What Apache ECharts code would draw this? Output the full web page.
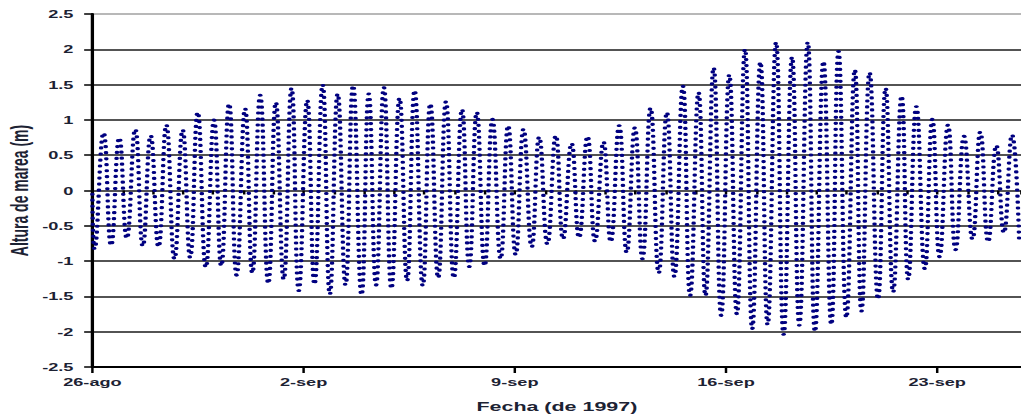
<!DOCTYPE html>
<html><head><meta charset="utf-8">
<script src="https://cdn.jsdelivr.net/npm/echarts@6/dist/echarts.min.js"></script>
<style>
html,body{margin:0;padding:0;background:#fff;overflow:hidden;}
#wrap{width:1021px;height:419px;overflow:hidden;position:relative;background:#fff;}
#chart{width:619px;height:419px;transform:scaleX(1.65);transform-origin:0 0;}
</style></head><body>
<div id="wrap"><div id="chart"></div></div>
<script>
// x tick labels (one per week, starting 26-ago-1997)
const tickLabels = ['26-ago', '2-sep', '9-sep', '16-sep', '23-sep'];
// times of successive low/high waters, in days since 26-ago 00:00
const tideDays = [0, 0.07, 0.37, 0.62, 0.89, 1.14, 1.42, 1.67, 1.93, 2.19, 2.45, 2.72, 2.99, 3.24, 3.49, 3.76, 4.03, 4.27, 4.53, 4.78, 5.06, 5.30, 5.56, 5.83, 6.08,
  6.34, 6.60, 6.84, 7.12, 7.36, 7.63, 7.87, 8.13, 8.39, 8.64, 8.92, 9.16, 9.40, 9.66, 9.91, 10.18, 10.43, 10.68, 10.95, 11.20, 11.46, 11.72, 11.98, 12.25,
  12.49, 12.74, 13.00, 13.26, 13.53, 13.78, 14.03, 14.29, 14.56, 14.81, 15.08, 15.36, 15.60, 15.88, 16.13, 16.41, 16.66, 16.94, 17.18, 17.46, 17.71, 17.98, 18.23, 18.50,
  18.77, 19.04, 19.29, 19.57, 19.81, 20.09, 20.32, 20.59, 20.84, 21.11, 21.36, 21.63, 21.87, 22.14, 22.38, 22.66, 22.91, 23.19, 23.43, 23.71, 23.95, 24.23, 24.49, 24.73,
  24.99, 25.27, 25.49, 25.76, 26.04, 26.29, 26.54, 26.82, 27.04, 27.31, 27.59, 27.84, 28.08, 28.36, 28.61, 28.89, 29.17, 29.43, 29.69, 29.96, 30.21, 30.48, 30.72];
// water level at those times (m)
const tideLevels = [-0.05, -0.83, 0.82, -0.78, 0.75, -0.68, 0.87, -0.79, 0.78, -0.80, 0.93, -0.97, 0.86, -0.95, 1.11, -1.09, 1.00, -1.07, 1.23, -1.20, 1.16, -1.17, 1.35, -1.32, 1.25,
  -1.26, 1.45, -1.42, 1.28, -1.33, 1.50, -1.47, 1.37, -1.34, 1.49, -1.48, 1.37, -1.34, 1.46, -1.39, 1.31, -1.28, 1.42, -1.35, 1.23, -1.24, 1.26, -1.24, 1.15,
  -1.08, 1.11, -1.07, 1.01, -0.97, 0.92, -0.91, 0.87, -0.80, 0.76, -0.76, 0.78, -0.69, 0.67, -0.67, 0.77, -0.72, 0.69, -0.73, 0.92, -0.88, 0.89, -0.97, 1.17,
  -1.17, 1.11, -1.22, 1.48, -1.49, 1.39, -1.49, 1.74, -1.77, 1.64, -1.75, 2.00, -1.96, 1.82, -1.90, 2.10, -2.04, 1.89, -1.91, 2.10, -2.00, 1.83, -1.90, 1.97,
  -1.80, 1.71, -1.71, 1.67, -1.54, 1.45, -1.44, 1.34, -1.26, 1.19, -1.11, 1.01, -0.94, 0.93, -0.84, 0.77, -0.69, 0.83, -0.73, 0.64, -0.60, 0.79, -0.74];

const seriesData = tideDays.map((d, i) => [d, tideLevels[i]]);
const textColor = '#1c2233';
const font = 'Liberation Sans, Arial, sans-serif';
const gridColors = ['#1a1a1a','#1a1a1a','#1a1a1a','#1a1a1a','#1a1a1a','#1a1a1a','#1a1a1a','#1a1a1a','#1a1a1a','#1a1a1a','#a0a0a0'];

const chart = echarts.init(document.getElementById('chart'), null, {renderer: 'svg'});
chart.setOption({
  animation: false,
  backgroundColor: '#fff',
  grid: {left: 56, right: 0, top: 14, bottom: 52, containLabel: false, outerBoundsMode: 'none'},
  xAxis: [{
    type: 'value', min: 0, max: 30.79, interval: 7, position: 'bottom',
    axisLine: {show: true, onZero: false, lineStyle: {color: '#000', width: 2}},
    axisTick: {show: true, length: 6, lineStyle: {color: '#000', width: 1.5}},
    axisLabel: {
      show: true, margin: 9, color: textColor, fontFamily: font, fontWeight: 'bold', fontSize: 11,
      showMaxLabel: false,
      formatter: v => { const k = Math.round(v / 7); return Math.abs(v - 7 * k) < 1e-6 ? (tickLabels[k] || '') : ''; }
    },
    splitLine: {show: false},
    name: 'Fecha (de 1997)', nameLocation: 'middle', nameGap: 33, nameMoveOverlap: false,
    nameTextStyle: {color: textColor, fontFamily: font, fontWeight: 'bold', fontSize: 13}
  }, {
    type: 'value', min: 0, max: 30.79, interval: 1, position: 'bottom',
    axisLine: {show: false}, axisLabel: {show: false}, splitLine: {show: false},
    axisTick: {show: true, length: 4, lineStyle: {color: '#000', width: 1.5}}
  }],
  yAxis: {
    type: 'value', min: -2.5, max: 2.5, interval: 0.5,
    axisLine: {show: true, onZero: false, lineStyle: {color: '#000', width: 2}},
    axisTick: {show: true, length: 5, lineStyle: {color: '#000', width: 1.5}},
    axisLabel: {margin: 11.5, color: textColor, fontFamily: font, fontWeight: 'bold', fontSize: 11},
    splitLine: {show: true, lineStyle: {color: gridColors, width: 1.5}},
    name: 'Altura de marea (m)', nameLocation: 'middle', nameGap: 37, nameMoveOverlap: false,
    nameTextStyle: {color: textColor, fontFamily: font, fontWeight: 'bold', fontSize: 14}
  },
  series: [{
    type: 'line', xAxisIndex: 0, data: seriesData,
    smooth: 0.5, showSymbol: false, symbol: 'none', clip: true,
    lineStyle: {color: '#000080', width: 2.7, type: [0.5, 5.5], cap: 'round'}
  }]
});
</script>
</body></html>
